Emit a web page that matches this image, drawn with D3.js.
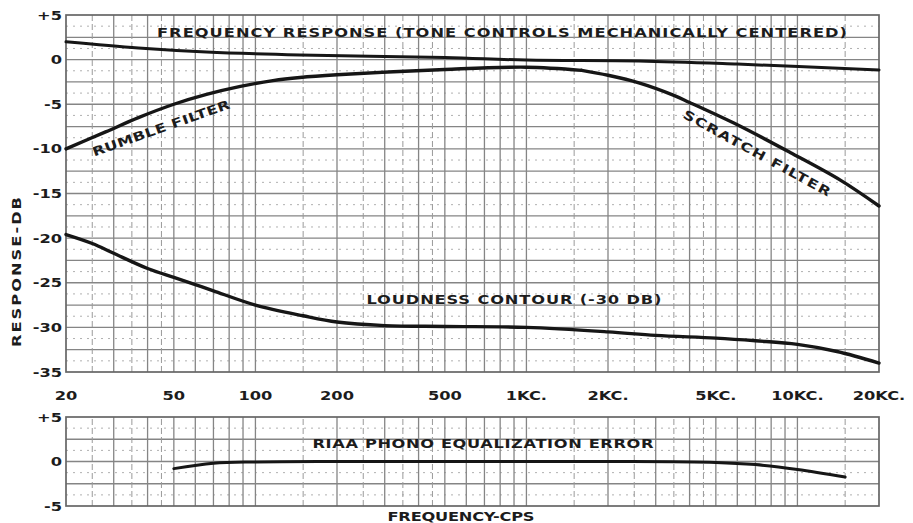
<!DOCTYPE html>
<html>
<head>
<meta charset="utf-8">
<script src="https://d3js.org/d3.v7.min.js"></script>
<style>
  body { margin: 0; background: #fff; }
  text { font-family: 'DejaVu Sans', sans-serif; font-weight: bold; fill: #1c1c1c; }
</style>
</head>
<body>
<div id="chart"></div>
<script>
var width = 913, height = 523;

// data (frequency in cps, response in dB)
var flatFreq = [20, 37, 66, 146, 500, 1000, 2600, 6000, 20000];
var flatDb   = [2.0, 1.3, 0.85, 0.52, 0.25, -0.05, -0.15, -0.5, -1.15];

var rumbleFreq = [20, 28, 37, 50, 66, 88, 116, 146, 200, 500, 1000, 1600];
var rumbleDb   = [-10, -8.1, -6.5, -5.0, -3.9, -3.0, -2.35, -2.0, -1.7, -1.1, -0.85, -1.2];

var scratchFreq = [1600, 2000, 2600, 3500, 4000, 6000, 9400, 14400, 20000];
var scratchDb   = [-1.2, -1.75, -2.6, -4.0, -4.8, -7.3, -10.4, -13.5, -16.4];

var loudFreq = [20, 25, 30, 40, 50, 60, 70, 100, 150, 200, 300, 500, 1000, 2000, 3000, 5000, 7000, 10000, 14000, 20000];
var loudDb   = [-19.6, -20.6, -21.7, -23.4, -24.4, -25.2, -25.9, -27.5, -28.7, -29.4, -29.8, -29.9, -30.0, -30.5, -30.9, -31.2, -31.5, -31.9, -32.7, -34.0];

var riaaFreq = [50, 70, 100, 200, 500, 1000, 2000, 5000, 7000, 10000, 15000];
var riaaDb   = [-0.8, -0.2, -0.05, 0, 0, 0, 0, -0.1, -0.35, -0.9, -1.75];

var xTicks = [20, 50, 100, 200, 500, 1000, 2000, 5000, 10000, 20000];
var xTickLabels = ["20", "50", "100", "200", "500", "1KC.", "2KC.", "5KC.", "10KC.", "20KC."];
var topYTicks = [5, 0, -5, -10, -15, -20, -25, -30, -35];
var botYTicks = [5, 0, -5];

var stretch = 1.3; // lettering on the chart is wide

var svg = d3.select("#chart").append("svg").attr("width", width).attr("height", height);

var x = d3.scaleLog().domain([20, 20000]).range([66, 879]);
var yTop = d3.scaleLinear().domain([-35, 5]).range([372, 15]);
var yBot = d3.scaleLinear().domain([-5, 5]).range([506, 417]);

// graph paper lines per decade
var solidMult = [1, 2, 3, 4, 5, 6, 7, 8, 9];
var dashMult = [1.5, 2.5, 3.5, 4.5];
function decadeLines(mults) {
  var out = [];
  [10, 100, 1000, 10000].forEach(function(d) {
    mults.forEach(function(m) {
      var f = m * d;
      if (f > 20 && f < 20000) out.push(f);
    });
  });
  return out;
}

function drawPanel(y, lo, hi) {
  var g = svg.append("g");
  // minor dotted horizontals
  d3.range(lo + 1.25, hi, 2.5).forEach(function(v) {
    g.append("line").attr("x1", x.range()[0]).attr("x2", x.range()[1])
      .attr("y1", y(v)).attr("y2", y(v))
      .attr("stroke", "#b0b0b0").attr("stroke-width", 1).attr("stroke-dasharray", "2,5");
  });
  d3.range(lo + 2.5, hi, 2.5).forEach(function(v) {
    g.append("line").attr("x1", x.range()[0]).attr("x2", x.range()[1])
      .attr("y1", y(v)).attr("y2", y(v))
      .attr("stroke", "#858585").attr("stroke-width", 1.3);
  });
  decadeLines(dashMult).forEach(function(f) {
    g.append("line").attr("x1", x(f)).attr("x2", x(f))
      .attr("y1", y(lo)).attr("y2", y(hi))
      .attr("stroke", "#9a9a9a").attr("stroke-width", 1).attr("stroke-dasharray", "6,3");
  });
  decadeLines(solidMult).forEach(function(f) {
    g.append("line").attr("x1", x(f)).attr("x2", x(f))
      .attr("y1", y(lo)).attr("y2", y(hi))
      .attr("stroke", "#858585").attr("stroke-width", 1.3);
  });
  g.append("rect").attr("x", x.range()[0]).attr("y", y(hi))
    .attr("width", x.range()[1] - x.range()[0]).attr("height", y(lo) - y(hi))
    .attr("fill", "none").attr("stroke", "#666").attr("stroke-width", 1.7);
}

drawPanel(yTop, -35, 5);
drawPanel(yBot, -5, 5);

function curve(freq, db, y, w) {
  var pts = freq.map(function(f, i) { return [f, db[i]]; });
  var line = d3.line().x(function(d) { return x(d[0]); }).y(function(d) { return y(d[1]); })
    .curve(d3.curveCatmullRom.alpha(0.5));
  svg.append("path").datum(pts).attr("d", line)
    .attr("fill", "none").attr("stroke", "#161616").attr("stroke-width", w)
    .attr("stroke-linecap", "round");
}

curve(flatFreq, flatDb, yTop, 3);
curve(rumbleFreq, rumbleDb, yTop, 3.4);
curve(scratchFreq, scratchDb, yTop, 3.4);
curve(loudFreq, loudDb, yTop, 3.4);
curve(riaaFreq, riaaDb, yBot, 3);

function wideText(txt, cx, cy, size, anchor, angle, len) {
  var t = svg.append("text")
    .attr("transform", "translate(" + cx + "," + cy + ") rotate(" + (angle || 0) + ") scale(" + stretch + ",1)")
    .attr("text-anchor", anchor).attr("dy", "0.36em")
    .style("font-size", size + "px")
    .text(txt);
  if (len) t.attr("textLength", len / stretch).attr("lengthAdjust", "spacing");
  return t;
}

// y tick labels
function yLabels(ticks, y) {
  ticks.forEach(function(v) {
    wideText(v > 0 ? "+" + v : String(v), 62, y(v), 12.5, "end", 0);
  });
}
yLabels(topYTicks, yTop);
yLabels(botYTicks, yBot);

// x tick labels
xTicks.forEach(function(f, i) {
  wideText(xTickLabels[i], x(f), 395, 12.5, "middle", 0);
});

wideText("FREQUENCY RESPONSE (TONE CONTROLS MECHANICALLY CENTERED)", 502, 32, 12.5, "middle", 0, 690);
wideText("RUMBLE FILTER", 161, 128, 12.5, "middle", -19.5, 145);
wideText("SCRATCH FILTER", 757, 153, 12.5, "middle", 28.6, 166);
wideText("LOUDNESS CONTOUR (-30 DB)", 514, 299, 12.5, "middle", 0, 295);
wideText("RIAA PHONO EQUALIZATION ERROR", 483, 443, 12.5, "middle", 0, 341);
wideText("FREQUENCY-CPS", 461, 516, 12.5, "middle", 0, 147);
wideText("RESPONSE-DB", 16, 272, 12.5, "middle", -90, 150);
</script>
</body>
</html>
